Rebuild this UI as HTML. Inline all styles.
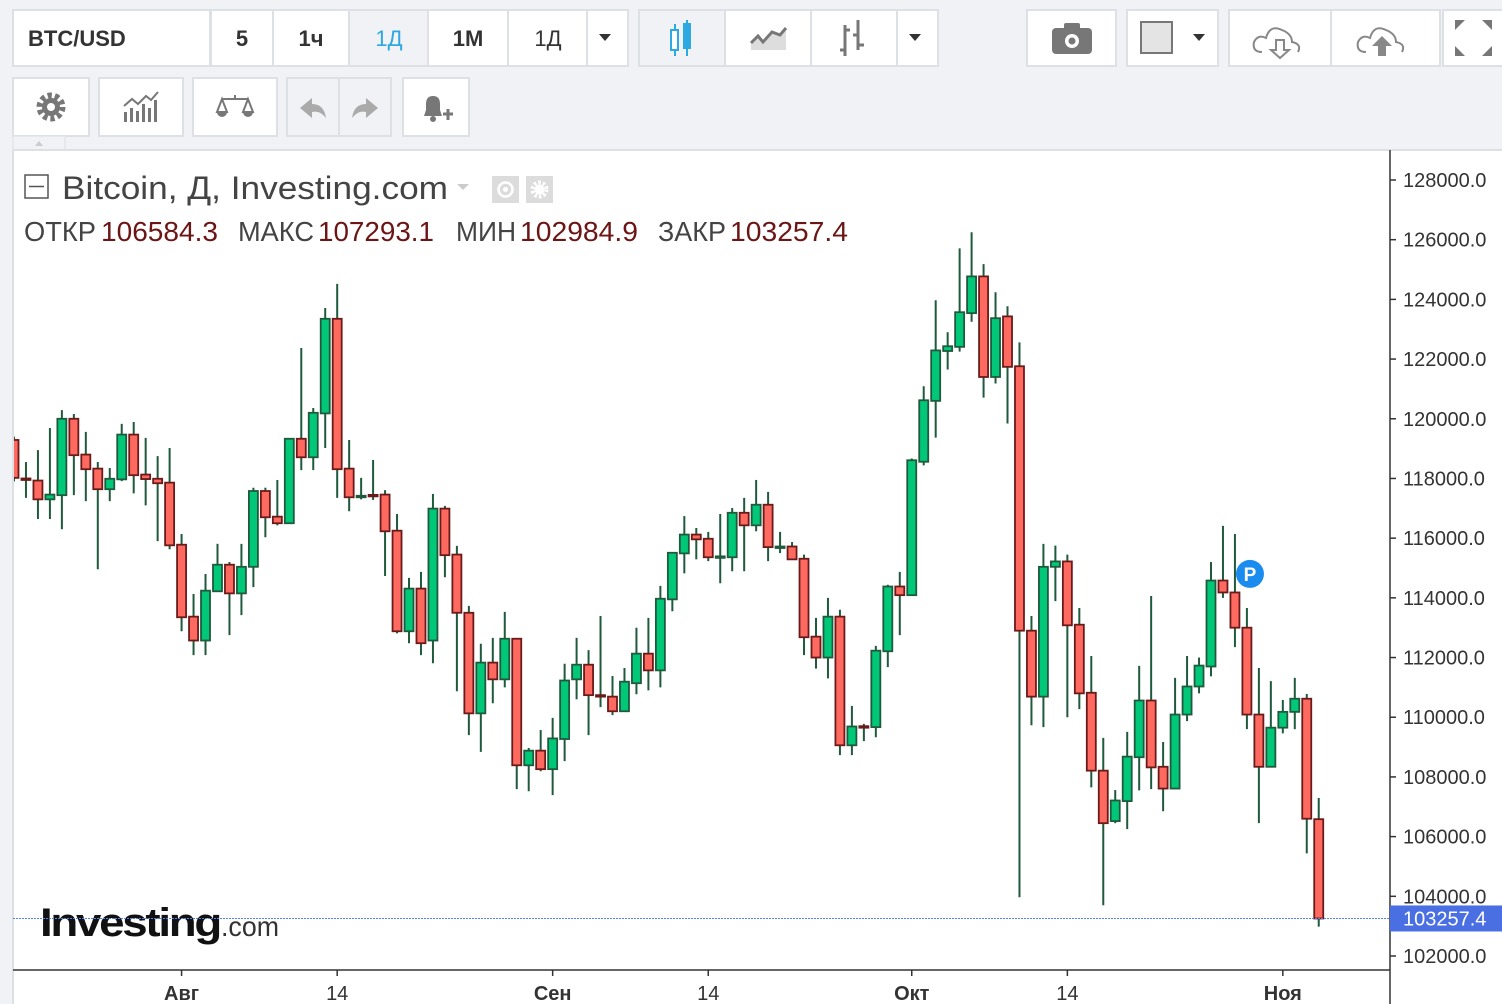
<!DOCTYPE html>
<html><head><meta charset="utf-8"><style>
html,body{margin:0;padding:0;background:#f0f2f5;}
svg{display:block;font-family:"Liberation Sans","DejaVu Sans",sans-serif;}
</style></head><body>
<svg id="chart" width="1502" height="1004" viewBox="0 0 1502 1004" xmlns="http://www.w3.org/2000/svg">
<rect x="0" y="0" width="1502" height="1004" fill="#f0f2f5"/>
<g font-size="22" font-weight="bold" fill="#333">
  <rect x="13" y="10" width="197" height="56" fill="#fff" stroke="#dde0e4" stroke-width="2"/>
  <text x="28" y="46" fill="#333">BTC/USD</text>
  <rect x="211" y="10" width="62" height="56" fill="#fff" stroke="#dde0e4" stroke-width="2"/>
  <text x="242" y="46" text-anchor="middle">5</text>
  <rect x="273" y="10" width="76" height="56" fill="#fff" stroke="#dde0e4" stroke-width="2"/>
  <text x="311" y="46" text-anchor="middle">1ч</text>
  <rect x="349" y="10" width="79" height="56" fill="#f0f2f5" stroke="#dde0e4" stroke-width="2"/>
  <text x="389" y="46" text-anchor="middle" fill="#2ea8e0" font-weight="normal">1Д</text>
  <rect x="428" y="10" width="80" height="56" fill="#fff" stroke="#dde0e4" stroke-width="2"/>
  <text x="468" y="46" text-anchor="middle">1М</text>
  <rect x="508" y="10" width="79" height="56" fill="#fff" stroke="#dde0e4" stroke-width="2"/>
  <text x="548" y="46" text-anchor="middle" font-weight="normal">1Д</text>
  <rect x="587" y="10" width="41" height="56" fill="#fff" stroke="#dde0e4" stroke-width="2"/>
  <path d="M599 34 L611 34 L605 41 Z" fill="#333"/>

  <rect x="639" y="10" width="86" height="56" fill="#f0f2f5" stroke="#dde0e4" stroke-width="2"/>
  <g stroke="#2ea8e0" stroke-width="2" fill="none"><line x1="675" y1="24" x2="675" y2="56"/><rect x="671" y="30" width="7" height="20" fill="#fff"/><line x1="687" y1="20" x2="687" y2="56"/><rect x="684" y="24" width="6" height="24" fill="#2ea8e0"/></g>
  <rect x="725" y="10" width="86" height="56" fill="#fff" stroke="#dde0e4" stroke-width="2"/>
  <path d="M751 50 L751 43 L758 36 L763 42 L772 32 L780 35 L786 28 L786 50 Z" fill="#ddd"/>
  <path d="M751 43 L758 36 L763 42 L772 32 L780 35 L786 28" stroke="#777" stroke-width="3" fill="none"/>
  <rect x="811" y="10" width="86" height="56" fill="#fff" stroke="#dde0e4" stroke-width="2"/>
  <g stroke="#777" stroke-width="3"><line x1="845" y1="25" x2="845" y2="56"/><line x1="845" y1="30" x2="850" y2="30"/><line x1="840" y1="50" x2="845" y2="50"/><line x1="858" y1="20" x2="858" y2="50"/><line x1="853" y1="35" x2="858" y2="35"/><line x1="858" y1="45" x2="864" y2="45"/></g>
  <rect x="897" y="10" width="41" height="56" fill="#fff" stroke="#dde0e4" stroke-width="2"/>
  <path d="M909 34 L921 34 L915 41 Z" fill="#333"/>

  <rect x="1027" y="10" width="89" height="56" fill="#fff" stroke="#dde0e4" stroke-width="2"/>
  <rect x="1052" y="28" width="40" height="26" rx="4" fill="#777"/><rect x="1064" y="23" width="16" height="7" rx="2" fill="#777"/><circle cx="1072" cy="41" r="7" fill="#fff"/><circle cx="1072" cy="41" r="3.5" fill="#777"/>
  <rect x="1127" y="10" width="91" height="56" fill="#fff" stroke="#dde0e4" stroke-width="2"/>
  <rect x="1141" y="22" width="31" height="31" fill="#e4e4e4" stroke="#777" stroke-width="2"/>
  <path d="M1193 34 L1205 34 L1199 41 Z" fill="#333"/>
  <rect x="1229" y="10" width="102" height="56" fill="#fff" stroke="#dde0e4" stroke-width="2"/>
  <path d="M1262 52 Q1252 52 1254 42 Q1258 34 1266 38 Q1270 24 1282 30 Q1292 34 1292 42 Q1302 44 1298 52" stroke="#888" stroke-width="2" fill="none"/>
  <path d="M1276 40 L1284 40 L1284 50 L1289 50 L1280 58 L1271 50 L1276 50 Z" stroke="#888" stroke-width="2" fill="#fff"/>
  <rect x="1331" y="10" width="109" height="56" fill="#fff" stroke="#dde0e4" stroke-width="2"/>
  <path d="M1366 52 Q1356 52 1358 42 Q1362 34 1370 38 Q1374 24 1386 30 Q1396 34 1396 42 Q1406 44 1402 52" stroke="#888" stroke-width="2" fill="none"/>
  <path d="M1378 56 L1378 46 L1372 46 L1382 36 L1392 46 L1386 46 L1386 56 Z" fill="#888"/>
  <rect x="1443" y="10" width="70" height="56" fill="#fff" stroke="#dde0e4" stroke-width="2"/>
  <g fill="#777"><path d="M1455 20 L1465 20 L1455 30Z"/><path d="M1492 20 L1482 20 L1492 30Z"/><path d="M1455 56 L1465 56 L1455 46Z"/><path d="M1492 56 L1482 56 L1492 46Z"/></g>
</g>
<g>
  <rect x="13" y="78" width="76" height="58" fill="#fff" stroke="#dde0e4" stroke-width="2"/>
  <circle cx="51" cy="107" r="11" fill="none" stroke="#777" stroke-width="7" stroke-dasharray="4 2.9"/><circle cx="51" cy="107" r="9" fill="#777"/><circle cx="51" cy="107" r="4" fill="#fff"/>
  <rect x="99" y="78" width="84" height="58" fill="#fff" stroke="#dde0e4" stroke-width="2"/>
  <g fill="#777"><rect x="124" y="112" width="3" height="10"/><rect x="130" y="108" width="3" height="14"/><rect x="136" y="111" width="3" height="11"/><rect x="142" y="104" width="3" height="18"/><rect x="148" y="108" width="3" height="14"/><rect x="154" y="100" width="3" height="22"/></g>
  <path d="M124 106 L132 99 L138 104 L146 96 L151 100 L158 92" stroke="#777" stroke-width="2" fill="none"/>
  <rect x="193" y="78" width="84" height="58" fill="#fff" stroke="#dde0e4" stroke-width="2"/>
  <g stroke="#777" stroke-width="2" fill="none"><line x1="222" y1="99" x2="248" y2="99"/><line x1="235" y1="95" x2="235" y2="99"/><path d="M222 99 L217 112 L227 112 Z"/><path d="M248 99 L243 112 L253 112 Z"/></g>
  <path d="M217 112 A5 5 0 0 0 227 112 Z M243 112 A5 5 0 0 0 253 112 Z" fill="#777"/>
  <rect x="287" y="78" width="52" height="58" fill="#f0f2f5" stroke="#dde0e4" stroke-width="2"/>
  <path d="M300 108 L312 98 L312 104 Q324 104 326 118 Q320 110 312 112 L312 118 Z" fill="#aaa"/>
  <rect x="339" y="78" width="52" height="58" fill="#f0f2f5" stroke="#dde0e4" stroke-width="2"/>
  <path d="M378 108 L366 98 L366 104 Q354 104 352 118 Q358 110 366 112 L366 118 Z" fill="#aaa"/>
  <rect x="403" y="78" width="66" height="58" fill="#fff" stroke="#dde0e4" stroke-width="2"/>
  <path d="M424 116 L426 110 L426 104 Q426 96 433 96 Q440 96 440 104 L440 110 L442 116 Z" fill="#777"/><circle cx="433" cy="119" r="3" fill="#777"/>
  <path d="M443 114 L453 114 M448 109 L448 120" stroke="#777" stroke-width="3"/>
  <rect x="13" y="136" width="52" height="14" fill="#f0f2f5" stroke="#dde0e4" stroke-width="1"/>
  <path d="M35 146 L43 146 L39 141 Z" fill="#ccc"/>
</g>
<rect x="13" y="150" width="1489" height="854" fill="#fff"/>
<line x1="13" y1="150" x2="1502" y2="150" stroke="#dde0e4" stroke-width="2"/>
<g id="yaxis"></g>
<g id="xaxis"></g>
<g>
  <text x="40" y="936" font-size="40" font-weight="bold" fill="#111" letter-spacing="-2" textLength="180" lengthAdjust="spacingAndGlyphs">Investing</text>
  <text x="221" y="936" font-size="28" fill="#333" textLength="58" lengthAdjust="spacingAndGlyphs">.com</text>
</g>
<svg x="13" y="150" width="1377" height="854" viewBox="13 150 1377 854" overflow="hidden"><g id="candles"></g></svg>
<line x1="13" y1="150" x2="13" y2="1004" stroke="#dde0e4" stroke-width="2"/>
<line x1="1390" y1="150" x2="1390" y2="1004" stroke="#333" stroke-width="1.5"/>
<line x1="13" y1="970" x2="1390" y2="970" stroke="#333" stroke-width="1.5"/>
<g>
  <rect x="25" y="175" width="23" height="23" fill="#fff" stroke="#555" stroke-width="1.5"/>
  <line x1="29" y1="186.5" x2="44" y2="186.5" stroke="#555" stroke-width="1.5"/>
  <text x="62" y="199" font-size="32" fill="#444" textLength="386" lengthAdjust="spacingAndGlyphs">Bitcoin, Д, Investing.com</text>
  <path d="M457 184 L469 184 L463 190 Z" fill="#ccc"/>
  <rect x="492" y="176" width="27" height="27" fill="#dcdcdc"/>
  <circle cx="505.5" cy="189.5" r="7" fill="none" stroke="#fff" stroke-width="2.5"/><circle cx="505.5" cy="189.5" r="2.5" fill="#fff"/>
  <rect x="526" y="176" width="27" height="27" fill="#dcdcdc"/>
  <circle cx="539.5" cy="189.5" r="7" fill="none" stroke="#fff" stroke-width="4" stroke-dasharray="2.5 2"/><circle cx="539.5" cy="189.5" r="5" fill="#fff"/>
  <g font-size="28">
    <text x="24" y="241" fill="#444" textLength="72" lengthAdjust="spacingAndGlyphs">ОТКР</text>
    <text x="101" y="241" fill="#6b1515" textLength="117" lengthAdjust="spacingAndGlyphs">106584.3</text>
    <text x="238" y="241" fill="#444" textLength="76" lengthAdjust="spacingAndGlyphs">МАКС</text>
    <text x="318" y="241" fill="#6b1515" textLength="116" lengthAdjust="spacingAndGlyphs">107293.1</text>
    <text x="456" y="241" fill="#444" textLength="60" lengthAdjust="spacingAndGlyphs">МИН</text>
    <text x="520" y="241" fill="#6b1515" textLength="118" lengthAdjust="spacingAndGlyphs">102984.9</text>
    <text x="658" y="241" fill="#444" textLength="68" lengthAdjust="spacingAndGlyphs">ЗАКР</text>
    <text x="730" y="241" fill="#6b1515" textLength="118" lengthAdjust="spacingAndGlyphs">103257.4</text>
  </g>
</g>
<script>
const opens  = [119.29,118.0,117.93,117.30,117.44,120.00,118.80,118.33,117.64,117.97,119.47,118.13,117.99,117.86,115.78,113.37,112.57,114.22,115.11,114.15,115.04,117.58,116.72,116.50,119.33,118.71,120.18,123.35,118.33,117.40,117.45,117.46,116.25,112.88,114.31,112.57,116.99,115.45,113.50,110.13,111.83,111.27,112.63,108.39,108.88,108.26,109.27,111.27,111.76,110.74,110.69,110.20,111.14,112.13,111.57,113.95,115.49,116.12,115.98,115.38,115.36,116.85,116.43,117.12,115.70,115.72,115.31,112.70,112.0,113.37,109.06,109.70,109.67,112.21,114.38,114.09,118.56,120.60,122.27,122.41,123.54,124.77,121.40,123.43,121.76,112.90,110.69,115.04,115.22,113.10,110.82,108.21,106.52,107.19,108.66,110.56,108.34,107.61,110.09,111.03,111.70,114.58,114.18,113.0,110.09,108.34,109.65,110.18,110.62,106.584];
const highs  = [119.4,118.55,118.95,119.69,120.29,120.16,119.56,118.55,118.35,119.83,119.89,119.36,118.75,119.02,116.14,114.13,114.80,115.81,115.20,115.81,117.69,117.69,117.95,119.33,122.37,120.36,123.71,124.52,119.29,118.02,118.62,117.61,116.81,114.67,114.87,117.48,117.08,115.74,113.73,112.46,112.66,113.53,112.63,108.97,109.57,109.98,111.79,112.66,112.25,113.39,111.38,111.65,113.0,113.33,114.40,115.51,116.74,116.34,116.21,116.81,117.01,117.35,117.95,117.55,116.21,115.87,115.45,113.33,114.0,113.60,110.38,109.78,112.39,114.44,114.87,118.67,121.09,123.97,122.90,125.71,126.25,125.18,124.24,123.77,122.56,113.39,115.81,115.75,115.45,113.66,112.05,109.31,107.56,109.51,111.72,114.06,109.17,111.32,112.05,112.0,115.20,116.41,116.14,113.66,111.65,111.21,110.58,111.32,110.78,107.293];
const lows   = [117.9,117.35,116.64,116.64,116.30,117.44,117.24,114.96,117.24,117.91,117.50,117.10,115.90,115.63,112.88,112.08,112.08,114.22,112.75,113.42,114.36,116.03,116.43,116.50,118.28,118.28,119.02,117.35,116.90,117.30,117.28,114.73,112.81,112.48,112.08,111.81,114.69,110.87,109.40,108.84,110.47,111.00,107.59,107.52,108.19,107.39,108.53,110.60,109.40,110.34,110.07,110.20,110.77,110.90,111.0,113.55,114.82,115.29,115.23,114.49,114.89,114.89,116.23,115.23,115.50,115.29,112.08,111.63,111.30,108.73,108.73,109.20,109.33,111.68,112.75,114.09,118.44,119.37,121.65,122.25,123.25,120.71,121.18,119.84,103.97,109.73,109.67,113.89,110.0,110.27,107.65,103.70,106.45,106.25,107.55,107.59,106.85,107.61,109.87,110.80,111.37,114.0,112.35,109.60,106.45,108.34,109.46,109.60,105.44,102.985];
const closes = [118.02,117.95,117.30,117.46,120.00,118.78,118.31,117.64,117.99,119.47,118.11,117.98,117.84,115.76,113.35,112.57,114.24,115.11,114.15,115.04,117.58,116.70,116.50,119.33,118.71,120.20,123.35,118.31,117.37,117.42,117.44,116.23,112.88,114.31,112.48,116.99,115.43,113.50,110.13,111.83,111.27,112.63,108.39,108.88,108.26,109.29,111.23,111.76,110.74,110.70,110.20,111.19,112.13,111.57,113.97,115.51,116.12,115.96,115.36,115.39,116.85,116.43,117.12,115.70,115.72,115.29,112.68,112.0,113.37,109.06,109.69,109.68,112.23,114.38,114.09,118.61,120.62,122.29,122.43,123.57,124.77,121.40,123.37,121.74,112.90,110.69,115.04,115.22,113.08,110.80,108.21,106.45,107.21,108.68,110.56,108.32,107.61,110.09,111.03,111.73,114.58,114.18,113.0,110.09,108.34,109.65,110.18,110.62,106.60,103.257];
const yTicks = [102000,104000,106000,108000,110000,112000,114000,116000,118000,120000,122000,124000,126000,128000];
const xTickLabels = ["Авг","14","Сен","14","Окт","14","Ноя"];
const xTickIndex = [14,27,45,58,75,88,106];
const xTickBold = [true,false,true,false,true,false,true];
const lastPrice = 103257.4;
const markerIndex = 101;

const NS = "http://www.w3.org/2000/svg";
function yScale(v){ return 180 + (128000 - v) * (776/26000); }
function xScale(i){ return 14 + i * 11.97; }
function mk(tag, attrs, parent){ const e=document.createElementNS(NS,tag); for(const k in attrs) e.setAttribute(k,attrs[k]); parent.appendChild(e); return e; }

const svg = document.getElementById('chart');
const yax = document.getElementById('yaxis');
yTicks.forEach(v=>{
  const y=yScale(v);
  const t=mk('line',{x1:1390,y1:y,x2:1396,y2:y,stroke:'#333','stroke-width':1.5},yax);
  
  
  const l=mk('text',{x:1403,y:y+7,'font-size':20,fill:'#333'},yax);
  
  
  l.textContent=v.toFixed(1);
});
const xax = document.getElementById('xaxis');
xTickLabels.forEach((s,k)=>{
  const x=xScale(xTickIndex[k]);
  const t=mk('line',{x1:x,y1:970,x2:x,y2:976,stroke:'#333','stroke-width':1.5},xax);
  
  
  const l=mk('text',{x:x,y:1000,'font-size':20,fill:'#333','text-anchor':'middle','font-weight':xTickBold[k]?'bold':'normal'},xax);
  
  
  l.textContent=s;
});
const cg = document.getElementById('candles');
opens.forEach((o,i)=>{
  const c=closes[i], h=highs[i], lo=lows[i];
  const up = c>=o;
  const x=xScale(i);
  const g=mk('g',{},cg);
  
  
  mk('line',{x1:x,y1:yScale(h*1000),x2:x,y2:yScale(lo*1000),stroke:'#1f5a3d','stroke-width':2},g);
  const yt=yScale(Math.max(o,c)*1000), yb=yScale(Math.min(o,c)*1000);
  mk('rect',{x:x-4.5,y:yt,width:9,height:Math.max(yb-yt,1.5),fill:up?'#00c878':'#ff6a60',stroke:up?'#1f5a3d':'#6b1a1a','stroke-width':1.8},g);
});
const ly=yScale(lastPrice);
const pl=mk('line',{x1:13,y1:ly,x2:1390,y2:ly,stroke:'#5b7de8','stroke-width':1,'stroke-dasharray':'2 1'},svg);


const pb=mk('rect',{x:1390,y:ly-13,width:112,height:26,fill:'#4a6fe3'},svg);


const pt=mk('text',{x:1403,y:ly+7,'font-size':20,fill:'#fff'},svg);


pt.textContent=lastPrice.toFixed(1);
const mx=xScale(markerIndex)+27, my=yScale(highs[markerIndex]*1000)+48;
const mc=mk('circle',{cx:mx,cy:my,r:14,fill:'#1a8cf0'},svg);


const mt=mk('text',{x:mx,y:my+7,'font-size':19,'font-weight':'bold',fill:'#fff','text-anchor':'middle'},svg);


mt.textContent='P';
</script>
</svg>
</body></html>
